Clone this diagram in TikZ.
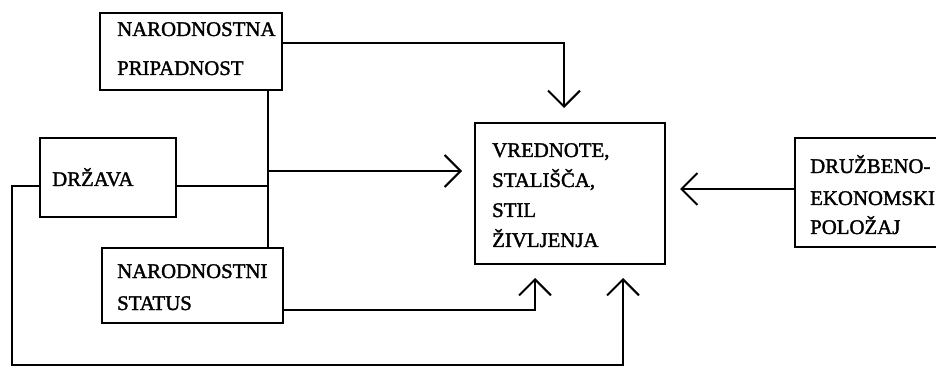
\documentclass[tikz,border=0pt]{standalone}
\usepackage{fontspec}
\setmainfont{Liberation Serif}[FakeBold=1.6]
\usetikzlibrary{arrows.meta}
\begin{document}
\begin{tikzpicture}[x=1pt,y=-1pt,
  box/.style={draw,line width=2pt,inner sep=0pt,outer sep=0pt},
  lbl/.style={anchor=base west,inner sep=0pt,font=\fontsize{20.8}{20.8}\selectfont},
  conn/.style={line width=2pt},
  arr/.style={conn,-{Straight Barb[length=16pt,width=32pt,line width=2pt]}}]
\clip (0,0) rectangle (936,371);
% boxes
\node[box,minimum width=182pt,minimum height=77pt,anchor=north west] (np) at (100,13) {};
\node[box,minimum width=136pt,minimum height=79pt,anchor=north west] (dr) at (40,138) {};
\node[box,minimum width=181pt,minimum height=75pt,anchor=north west] (ns) at (102,248) {};
\node[box,minimum width=190pt,minimum height=141pt,anchor=north west] (vr) at (475,123) {};
\node[box,minimum width=155pt,minimum height=109pt,anchor=north west] (de) at (795,138) {};
% texts
\node[lbl] (np1) at (117,36) {NARODNOSTNA};
\node[lbl] (np2) at (117,75) {PRIPADNOST};
\node[lbl] (dr1) at (52,186) {DRŽAVA};
\node[lbl] (ns1) at (117,278) {NARODNOSTNI};
\node[lbl] (ns2) at (117,310) {STATUS};
\node[lbl] (vr1) at (492,157) {VREDNOTE,};
\node[lbl] (vr2) at (492,187) {STALIŠČA,};
\node[lbl] (vr3) at (492,217) {STIL};
\node[lbl] (vr4) at (492,247) {ŽIVLJENJA};
\node[lbl] (de1) at (810,173) {DRUŽBENO-};
\node[lbl] (de2) at (810,205) {EKONOMSKI};
\node[lbl] (de3) at (810,234) {POLOŽAJ};
% coordinates
\coordinate (t1) at (564,108);
\coordinate (j1) at (268,171);
\coordinate (t2) at (462,171);
\coordinate (t3) at (535,278);
\coordinate (t4) at (623,278);
\coordinate (t5) at (680,189);
% connectors
\draw[arr] (np.east |- 0,43) -| (t1);
\draw[conn] (np.south -| j1) -- (ns.north -| j1);
\draw[arr] (j1) -- (t2);
\draw[conn] (dr.east |- 0,186) -- (268,186);
\draw[arr] (ns.east |- 0,310) -| (t3);
\draw[arr] (dr.west |- 0,186) -- (12,186) -- (12,365) -| (t4);
\draw[arr] (de.west |- 0,189) -- (t5);
\end{tikzpicture}
\end{document}
